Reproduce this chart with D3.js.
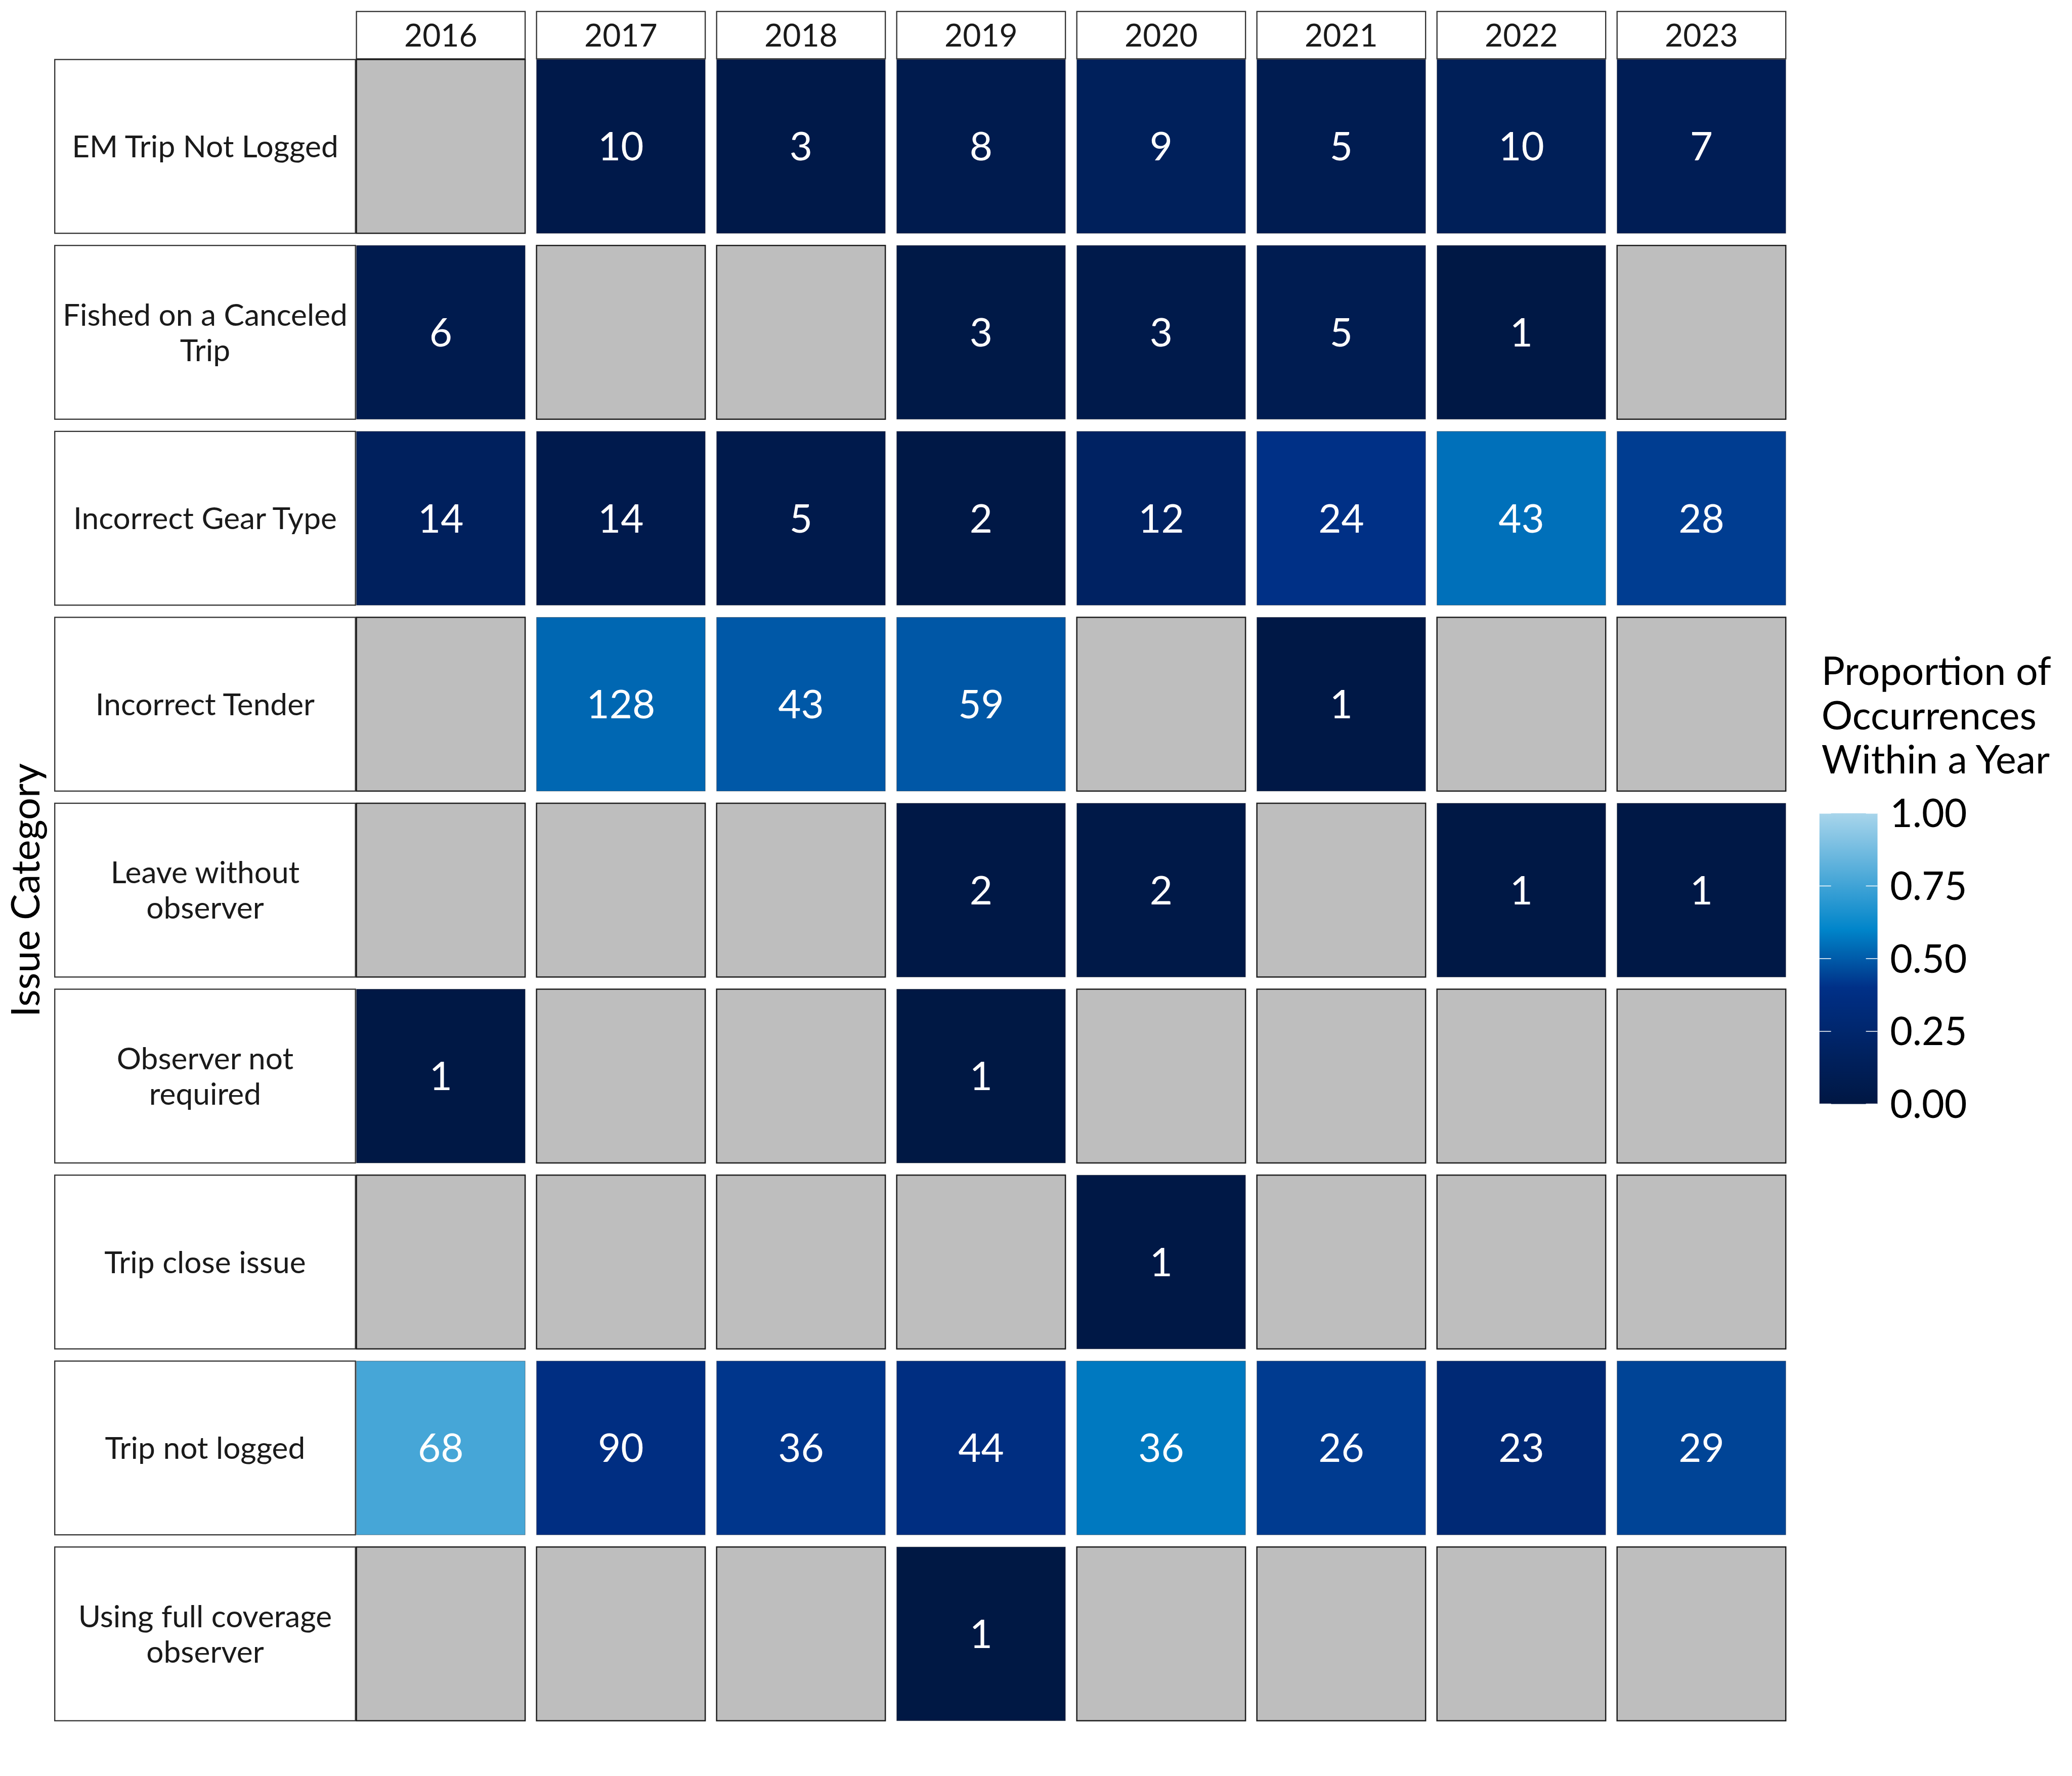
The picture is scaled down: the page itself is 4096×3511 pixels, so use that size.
<!DOCTYPE html>
<html>
<head>
<meta charset="utf-8">
<script src="https://cdn.jsdelivr.net/npm/d3@7"></script>
<style>
html, body { margin: 0; padding: 0; background: #ffffff; }
svg { display: block; }
</style>
</head>
<body>
<script>
// ---------------- DATA ----------------
const years = ["2016", "2017", "2018", "2019", "2020", "2021", "2022", "2023"];

const categories = [
  "EM Trip Not Logged",
  "Fished on a Canceled Trip",
  "Incorrect Gear Type",
  "Incorrect Tender",
  "Leave without observer",
  "Observer not required",
  "Trip close issue",
  "Trip not logged",
  "Using full coverage observer"
];

// occurrence counts per year (null = no occurrence)
const emTripNotLogged        = [null, 10, 3, 8, 9, 5, 10, 7];
const fishedOnCanceledTrip   = [6, null, null, 3, 3, 5, 1, null];
const incorrectGearType      = [14, 14, 5, 2, 12, 24, 43, 28];
const incorrectTender        = [null, 128, 43, 59, null, 1, null, null];
const leaveWithoutObserver   = [null, null, null, 2, 2, null, 1, 1];
const observerNotRequired    = [1, null, null, 1, null, null, null, null];
const tripCloseIssue         = [null, null, null, null, 1, null, null, null];
const tripNotLogged          = [68, 90, 36, 44, 36, 26, 23, 29];
const usingFullCoverageObs   = [null, null, null, 1, null, null, null, null];

const seriesValues = [
  emTripNotLogged, fishedOnCanceledTrip, incorrectGearType, incorrectTender,
  leaveWithoutObserver, observerNotRequired, tripCloseIssue, tripNotLogged,
  usingFullCoverageObs
];

const legendTicks = [0, 0.25, 0.5, 0.75, 1];
const paletteStops = [0, 0.2, 0.4, 0.6, 0.8, 1];
const paletteColors = ["#001743", "#002364", "#003087", "#0085CA", "#55ADDA", "#A8D5EB"];

const legendTitleLines = ["Proportion of", "Occurrences", "Within a Year"];
const yAxisTitle = "Issue Category";

// ---------------- DERIVED ----------------
const yearTotals = years.map((y, j) => d3.sum(seriesValues, s => s[j] || 0));
const cells = [];
categories.forEach((c, i) => {
  years.forEach((y, j) => {
    const v = seriesValues[i][j];
    cells.push({ cat: c, year: y, value: v, prop: v == null ? null : v / yearTotals[j] });
  });
});

// ---------------- LAYOUT (reference px, scaled 0.975) ----------------
const S = 0.975;
const W = 4096, H = 3511;
const FONT = "Lato, 'Open Sans', sans-serif";

const svg = d3.select("body").append("svg")
  .attr("width", W).attr("height", H)
  .attr("viewBox", `0 0 ${W} ${H}`);
svg.append("rect").attr("width", W).attr("height", H).attr("fill", "#ffffff");

const g = svg.append("g").attr("transform", `scale(${S})`);

const x = d3.scaleBand().domain(years).range([722.7, 3620.7]).paddingInner(0.0633).paddingOuter(0);
const y = d3.scaleBand().domain(categories).range([120.7, 3489]).paddingInner(0.0655).paddingOuter(0);

const color = d3.scaleLinear().domain(paletteStops).range(paletteColors)
  .interpolate(d3.interpolateRgb).clamp(true);

const CAP = 0.7165; // Lato cap-height ratio

// ---- top strips (years)
const stripTop = 23.3, stripBottom = 119.3;
const yearStrip = g.append("g").attr("class", "year-strips");
yearStrip.selectAll("rect").data(years).join("rect")
  .attr("x", d => x(d)).attr("y", stripTop)
  .attr("width", x.bandwidth()).attr("height", stripBottom - stripTop)
  .attr("fill", "#ffffff").attr("stroke", "#333333").attr("stroke-width", 2.4);
const yearFs = 64;
yearStrip.selectAll("text").data(years).join("text")
  .attr("x", d => x(d) + x.bandwidth() / 2)
  .attr("y", (stripTop + stripBottom) / 2 + yearFs * CAP / 2)
  .attr("text-anchor", "middle")
  .attr("font-family", FONT).attr("font-size", yearFs).attr("fill", "#1a1a1a")
  .text(d => d);

// ---- left strips (categories)
const labLeft = 111, labRight = 720.7;
const labFs = 62, labLS = 71.6;
function wrap(str, width) {
  const words = str.split(" ");
  const lines = [];
  let cur = "";
  words.forEach(w => {
    if (cur === "") cur = w;
    else if ((cur + " " + w).length <= width) cur += " " + w;
    else { lines.push(cur); cur = w; }
  });
  if (cur) lines.push(cur);
  return lines;
}
const catStrip = g.append("g").attr("class", "cat-strips");
catStrip.selectAll("rect").data(categories).join("rect")
  .attr("x", labLeft).attr("y", d => y(d))
  .attr("width", labRight - labLeft).attr("height", y.bandwidth())
  .attr("fill", "#ffffff").attr("stroke", "#333333").attr("stroke-width", 2.4);
catStrip.selectAll("text").data(categories).join("text")
  .attr("text-anchor", "middle")
  .attr("font-family", FONT).attr("font-size", labFs).attr("fill", "#1a1a1a")
  .each(function(d) {
    const lines = wrap(d, 20);
    const cy = y(d) + y.bandwidth() / 2;
    const first = cy + labFs * CAP / 2 - (lines.length - 1) * labLS / 2;
    d3.select(this).selectAll("tspan").data(lines).join("tspan")
      .attr("x", (labLeft + labRight) / 2)
      .attr("y", (l, k) => first + k * labLS)
      .text(l => l);
  });

// ---- cells
const cellG = g.append("g").attr("class", "cells");
cellG.selectAll("rect").data(cells).join("rect")
  .attr("x", d => x(d.year)).attr("y", d => y(d.cat))
  .attr("width", x.bandwidth()).attr("height", y.bandwidth())
  .attr("fill", d => d.prop == null ? "#BEBEBE" : color(d.prop))
  .attr("stroke", d => d.prop == null ? "#1f1f1f" : "#111111")
  .attr("stroke-opacity", d => d.prop == null ? 1 : 0.45)
  .attr("stroke-width", d => d.prop == null ? 2.6 : 1);

const numFs = 80;
cellG.selectAll("text").data(cells.filter(d => d.value != null)).join("text")
  .attr("x", d => x(d.year) + x.bandwidth() / 2)
  .attr("y", d => y(d.cat) + y.bandwidth() / 2 + numFs * CAP / 2)
  .attr("text-anchor", "middle")
  .attr("font-family", FONT).attr("font-size", numFs).attr("fill", "#ffffff")
  .text(d => d.value);

// ---- y axis title
const axFs = 79.5;
g.append("text")
  .attr("transform", `translate(80, ${(120.7 + 3489) / 2}) rotate(-90)`)
  .attr("text-anchor", "middle")
  .attr("font-family", FONT).attr("font-size", axFs).attr("fill", "#000000")
  .text(yAxisTitle);

// ---- legend
const lgX = 3689, lgW = 117.7;
const ly = d3.scaleLinear().domain([0, 1]).range([2238.5, 1649]);
const legFs = 79;
const lg = g.append("g").attr("class", "legend");
lg.selectAll("text.title").data(legendTitleLines).join("text")
  .attr("class", "title")
  .attr("x", 3693).attr("y", (d, i) => 1389 + i * 89.5)
  .attr("font-family", FONT).attr("font-size", legFs).attr("fill", "#000000")
  .text(d => d);

const defs = svg.append("defs");
const grad = defs.append("linearGradient").attr("id", "cbar")
  .attr("x1", 0).attr("y1", 1).attr("x2", 0).attr("y2", 0);
grad.selectAll("stop").data(d3.range(0, 1.0001, 0.02)).join("stop")
  .attr("offset", d => d).attr("stop-color", d => color(d));

lg.append("rect")
  .attr("x", lgX).attr("y", ly(1))
  .attr("width", lgW).attr("height", ly(0) - ly(1))
  .attr("fill", "url(#cbar)");

const tickLen = 23.5;
lg.selectAll("line.tl").data(legendTicks).join("line").attr("class", "tl")
  .attr("x1", lgX).attr("x2", lgX + tickLen)
  .attr("y1", d => ly(d)).attr("y2", d => ly(d))
  .attr("stroke", "#ffffff").attr("stroke-width", 1.6);
lg.selectAll("line.tr").data(legendTicks).join("line").attr("class", "tr")
  .attr("x1", lgX + lgW - tickLen).attr("x2", lgX + lgW)
  .attr("y1", d => ly(d)).attr("y2", d => ly(d))
  .attr("stroke", "#ffffff").attr("stroke-width", 1.6);

const fmt = d3.format(".2f");
lg.selectAll("text.lab").data(legendTicks).join("text").attr("class", "lab")
  .attr("x", 3832).attr("y", d => ly(d) + legFs * CAP / 2)
  .attr("font-family", FONT).attr("font-size", legFs).attr("fill", "#000000")
  .text(d => fmt(d));
</script>
</body>
</html>
